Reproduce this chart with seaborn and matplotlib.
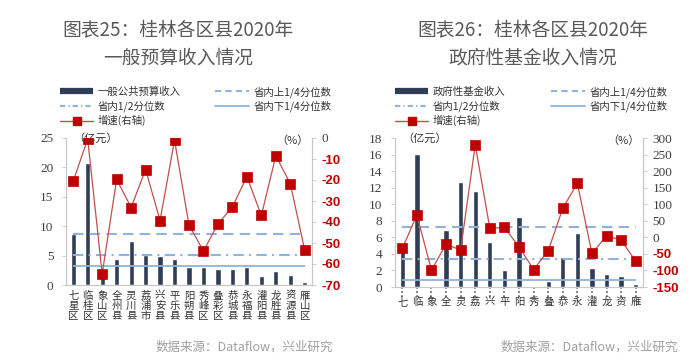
import numpy as np
import pandas as pd
import matplotlib
matplotlib.use("Agg")
import matplotlib.pyplot as plt
import matplotlib.transforms as mtrans
from matplotlib.lines import Line2D
import seaborn as sns

sns.set_style("white")
plt.rcParams['font.family'] = ['Noto Sans CJK SC', 'DejaVu Sans']

# ---------------- data ----------------
names = ['七星区', '临桂区', '象山区', '全州县', '灵川县', '荔浦市', '兴安县', '平乐县', '阳朔县',
         '秀峰区', '叠彩区', '恭城县', '永福县', '灌阳县', '龙胜县', '资源县', '雁山区']

budget_income = [8.6, 20.7, 1.4, 4.5, 7.5, 5.05, 4.9, 4.4, 3.1, 3.1, 2.7, 2.7, 3.1, 1.5, 2.3, 1.7, 0.45]
budget_growth = [-20.5, -0.5, -64.7, -19.7, -33.1, -15.0, -39.3, -1.0, -41.5, -53.8, -40.9, -32.8,
                 -18.4, -36.9, -8.5, -21.7, -53.5]
budget_q = {'upper': 8.6, 'median': 5.05, 'lower': 3.2}

fund_income = [4.3, 16.1, 0.05, 6.9, 12.66, 11.6, 5.46, 2.1, 8.5, 0.05, 0.73, 3.64, 6.47, 2.35, 1.62, 1.3, 0.4]
fund_growth = [-33.7, 67.4, -99.4, -20.5, -38.7, 279.8, 27.0, 30.0, -28.6, -97.3, -40.7, 87.6,
               163.4, -48.8, 4.8, -8.4, -72.1]
fund_q = {'upper': 7.28, 'median': 3.4, 'lower': 0.81}

left_ticks_1 = [0, 5, 10, 15, 20, 25]
right_ticks_1 = [-70, -60, -50, -40, -30, -20, -10, 0]
left_ticks_2 = [0, 2, 4, 6, 8, 10, 12, 14, 16, 18]
right_ticks_2 = [-150, -100, -50, 0, 50, 100, 150, 200, 250, 300]

titles = [("图表25：桂林各区县2020年", "一般预算收入情况"),
          ("图表26：桂林各区县2020年", "政府性基金收入情况")]
bar_labels = ["一般公共预算收入", "政府性基金收入"]
source = "数据来源：Dataflow，兴业研究"

# ---------------- style ----------------
NAVY = '#2f3e56'
QBLUE = '#8fb3dc'
LRED = '#c0504d'
DRED = '#c00000'
SPINE = '#c8c8c8'
TICKC = '#404040'

W, H = 700, 363
fig = plt.figure(figsize=(W / 100, H / 100), dpi=100)


def fx(px):
    return px / W


def fy(py):
    return 1 - py / H


def draw_panel(rect, income, growth, q, lticks, rticks, bar_label, vertical_full, legend_pos, colsp):
    ax = fig.add_axes(rect)
    n = len(names)
    df = pd.DataFrame({'name': names, 'income': income, 'growth': growth, 'pos': np.arange(n)})
    sns.barplot(data=df, x='name', y='income', ax=ax, color=NAVY, width=0.36, saturation=1, zorder=2)
    ax.set_xlim(-0.5, n - 0.5)
    ax.set_ylim(lticks[0], lticks[-1])
    ax.set_yticks(lticks)
    ax.set_xlabel('')
    ax.set_ylabel('')
    # quantile lines
    ax.hlines(q['upper'], 0, n - 1, colors=QBLUE, linestyles=(0, (5, 3)), lw=1.5, zorder=3)
    ax.hlines(q['median'], 0, n - 1, colors=QBLUE, linestyles=(0, (5, 2.5, 1, 2.5)), lw=1.5, zorder=3)
    ax.hlines(q['lower'], 0, n - 1, colors=QBLUE, linestyles='-', lw=1.3, zorder=3)

    ax2 = ax.twinx()
    sns.lineplot(data=df, x='pos', y='growth', ax=ax2, color=LRED, lw=0.9, marker='s',
                 markersize=6.5, markerfacecolor=DRED, markeredgecolor=DRED, markeredgewidth=0.5)
    ax2.set_xlim(-0.5, n - 0.5)
    ax2.set_ylim(rticks[0], rticks[-1])
    ax2.set_yticks(rticks)
    ax2.set_xlabel('')
    ax2.set_ylabel('')

    for a in (ax, ax2):
        for s in a.spines.values():
            s.set_color(SPINE)
            s.set_linewidth(0.8)
        a.spines['top'].set_visible(False)

    ax.tick_params(axis='y', length=3, width=0.6, color=SPINE, pad=6, labelsize=9.5, labelcolor=TICKC)
    for lab in ax.get_yticklabels():
        lab.set_fontfamily(['Liberation Serif'])
    ax2.tick_params(axis='y', length=3, width=0.6, color=SPINE, pad=4, labelsize=9.5)
    ax2.set_yticklabels([str(t) for t in rticks])
    for lab, t in zip(ax2.get_yticklabels(), rticks):
        if t < 0:
            lab.set_color(DRED)
            lab.set_fontfamily(['Liberation Sans'])
            lab.set_fontweight('bold')
        else:
            lab.set_color(TICKC)
            lab.set_fontfamily(['Liberation Serif'])

    ax.set_xticks(range(n))
    if vertical_full:
        ax.set_xticklabels(['\n'.join(nm) for nm in names], fontsize=7.5, color='#333333',
                           linespacing=1.0, va='top')
        ax.tick_params(axis='x', length=0, pad=4)
    else:
        ax.set_xticklabels([nm[0] for nm in names], fontsize=7.5, color='#333333',
                           linespacing=1.0, va='top')
        ax.tick_params(axis='x', length=0, pad=7)
        trans = mtrans.blended_transform_factory(ax.transData, ax.transAxes)
        ax.vlines(df['pos'], -0.065, 0, transform=trans, colors='#555555', linestyles=(0, (1, 1.5)),
                  lw=1.2, clip_on=False)

    ax.text(0.03, 1.0, '（亿元）', transform=ax.transAxes, ha='left', va='center', fontsize=8, color='#333333')
    ax.text(0.985, 0.985, '（%）', transform=ax.transAxes, ha='right', va='center', fontsize=8, color='#333333')

    handles = [
        Line2D([], [], color=NAVY, lw=4.5, solid_capstyle='butt'),
        Line2D([], [], color=QBLUE, lw=1.5, linestyle=(0, (2.5, 1.5, 0.6, 1.5))),
        Line2D([], [], color=LRED, lw=1.0, marker='s', markersize=6, markerfacecolor=DRED, markeredgecolor=DRED),
        Line2D([], [], color=QBLUE, lw=1.5, linestyle=(0, (3, 2))),
        Line2D([], [], color=QBLUE, lw=1.3),
    ]
    labels = [bar_label, '省内1/2分位数', '增速(右轴)', '省内上1/4分位数', '省内下1/4分位数']
    fig.legend(handles, labels, loc='upper left', bbox_to_anchor=legend_pos, ncol=2, frameon=False,
               fontsize=7.5, handlelength=3.2, handletextpad=0.45, columnspacing=colsp,
               labelspacing=0.32, borderpad=0, borderaxespad=0, labelcolor='#333333')
    return ax, ax2


draw_panel([fx(66), fy(285), fx(312 - 66), (285 - 138) / H], budget_income, budget_growth, budget_q,
           left_ticks_1, right_ticks_1, bar_labels[0], True, (fx(60), fy(86)), 3.3)
draw_panel([fx(395), fy(287), fx(643 - 395), (287 - 138) / H], fund_income, fund_growth, fund_q,
           left_ticks_2, right_ticks_2, bar_labels[1], False, (fx(395), fy(86)), 4.4)

# titles
for (l1, l2), cx in zip(titles, [178, 533]):
    fig.text(fx(cx), fy(30), l1, ha='center', va='center', fontsize=13.5, color='#595959')
    fig.text(fx(cx), fy(58), l2, ha='center', va='center', fontsize=13.5, color='#595959')

fig.text(fx(333), fy(347), source, ha='right', va='center', fontsize=9, color='#a0a0a0')
fig.text(fx(678), fy(347), source, ha='right', va='center', fontsize=9, color='#a0a0a0')

fig.savefig('out.png', dpi=100)
